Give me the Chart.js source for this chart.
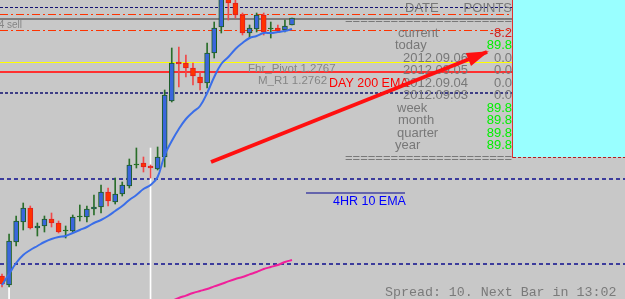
<!DOCTYPE html>
<html>
<head>
<meta charset="utf-8">
<script src="https://cdn.jsdelivr.net/npm/chart.js@4.4.0/dist/chart.umd.min.js"></script>
<style>
html, body { margin: 0; padding: 0; background: #c8c8c8; overflow: hidden; }
#chart { display: block; }
</style>
</head>
<body>
<canvas id="chart" width="625" height="299"></canvas>
<script>
// 4H candles, oldest first
var opens  = [1.2662, 1.26575, 1.2679, 1.2689, 1.2696, 1.2686, 1.2687, 1.26905, 1.26885, 1.26845,
              1.26845, 1.26915, 1.26915, 1.26955, 1.26965, 1.2704, 1.2699, 1.2703, 1.2707, 1.27175,
              1.27185, 1.2717, 1.27155, 1.27215, 1.27495, 1.2769, 1.27685, 1.2766, 1.27615, 1.27585,
              1.27735, 1.27865, 1.2803, 1.27985, 1.27925, 1.27835, 1.27855, 1.27925, 1.27855, 1.2786,
              1.2785, 1.27875];
var highs  = [1.2663, 1.2683, 1.2692, 1.26985, 1.2697, 1.26885, 1.2692, 1.26935, 1.26895, 1.2687,
              1.26925, 1.26975, 1.2697, 1.27025, 1.27075, 1.2706, 1.2711, 1.2709, 1.27205, 1.2726,
              1.27215, 1.27175, 1.27265, 1.2755, 1.2776, 1.27765, 1.27725, 1.27685, 1.2764, 1.27785,
              1.2789, 1.28075, 1.28075, 1.2801, 1.27935, 1.27875, 1.27935, 1.27935, 1.2789, 1.27875,
              1.279, 1.2791];
var lows   = [1.26565, 1.26565, 1.2677, 1.2685, 1.26855, 1.2682, 1.2684, 1.26865, 1.26835, 1.2681,
              1.2684, 1.26895, 1.2689, 1.26925, 1.26935, 1.2697, 1.2698, 1.2702, 1.2706, 1.2716,
              1.2714, 1.2711, 1.2715, 1.27165, 1.2749, 1.27565, 1.27615, 1.27575, 1.2755, 1.2756,
              1.2771, 1.27835, 1.279, 1.2791, 1.27825, 1.2781, 1.2784, 1.27825, 1.2781, 1.2784,
              1.2784, 1.27875];
var closes = [1.2658, 1.26795, 1.26895, 1.2696, 1.2686, 1.2687, 1.26905, 1.26885, 1.2684, 1.2685,
              1.26915, 1.2692, 1.26955, 1.26965, 1.2704, 1.26995, 1.2703, 1.27075, 1.27175, 1.2718,
              1.27165, 1.2716, 1.27215, 1.27525, 1.27685, 1.2768, 1.2766, 1.2762, 1.27585, 1.27735,
              1.2786, 1.28025, 1.27985, 1.27925, 1.27835, 1.2786, 1.27925, 1.2784, 1.2786, 1.27845,
              1.2787, 1.2791];

// 4HR 10 EMA, one value per candle
var ema10 = [1.26575, 1.2663, 1.26685, 1.26725, 1.2675, 1.2677, 1.2679, 1.26805, 1.26815, 1.2682,
             1.26835, 1.2685, 1.26865, 1.26885, 1.269, 1.2692, 1.26945, 1.2697, 1.27, 1.27025,
             1.27055, 1.27075, 1.27115, 1.27225, 1.27295, 1.27355, 1.27405, 1.2744, 1.2747, 1.27535,
             1.27615, 1.2768, 1.27715, 1.27755, 1.27785, 1.2781, 1.2782, 1.27835, 1.27835, 1.2784,
             1.27845, 1.27855];

// day 200 EMA, starts at candle 24
var ema200Start = 24;
var ema200 = [1.26495, 1.2651, 1.26522, 1.26535, 1.26545, 1.26555, 1.26568, 1.2658, 1.26593,
              1.26605, 1.26615, 1.26628, 1.2664, 1.26655, 1.26665, 1.26675, 1.2669, 1.267];

// horizontal levels drawn across the chart
var levels = [1.27965, 1.27928, 1.27905, 1.27845, 1.27685, 1.2764, 1.27535, 1.27105, 1.2668];

// period separators
var sepX = [1, 21];
var sepTop = [1.26575, 1.2726];

// hand drawn objects
var arrowX = [29.55, 68.57];
var arrowY = [1.2719, 1.2774];
var emaLineX = [42.98, 56.98];
var emaLineY = 1.27035;
var boxLeft = 72.28;
var boxBottom = 1.27215;

// stats panel
var panelLabels = ['current', 'today', '2012.09.06', '2012.09.05', '2012.09.04', '2012.09.03',
                   'week', 'month', 'quarter', 'year'];
var panelPoints = [-8.2, 89.8, 0.0, 0.0, 0.0, 0.0, 89.8, 89.8, 89.8, 89.8];

var levelStyles = [
    { color: '#101070', width: 1, dash: [3, 2] },
    { color: '#ff3300', width: 1, dash: [8, 3, 2, 3] },
    { color: '#7e7e7e', width: 2, dash: [] },
    { color: '#ff3300', width: 1, dash: [8, 3, 2, 3] },
    { color: '#ffff00', width: 1, dash: [] },
    { color: '#ff3030', width: 2, dash: [] },
    { color: '#101070', width: 1.5, dash: [3, 2] },
    { color: '#3c3c9c', width: 2, dash: [4, 3] },
    { color: '#3c3c9c', width: 2, dash: [4, 3] }
];
var panelLabelLeft = [398, 395, 403, 403, 403, 403, 397, 398, 397, 395];

var SANS = '"Liberation Sans", Arial, sans-serif';

function isDoji(i) {
    return closes[i] >= opens[i] && closes[i] - opens[i] < 0.00007;
}

function snap(y, w) {
    return (Math.round(w) % 2 === 1) ? Math.floor(y) + 0.5 : Math.round(y);
}

var overlay = {
    id: 'overlay',
    beforeDraw: function (chart) {
        var ctx = chart.ctx;
        ctx.save();
        ctx.fillStyle = '#c8c8c8';
        ctx.fillRect(0, 0, chart.width, chart.height);
        ctx.restore();
    },
    beforeDatasetsDraw: function (chart) {
        var ctx = chart.ctx;
        var xs = chart.scales.x, ys = chart.scales.y;
        ctx.save();

        // levels
        levels.forEach(function (p, i) {
            var st = levelStyles[i];
            var y = snap(ys.getPixelForValue(p), st.width);
            ctx.beginPath();
            ctx.setLineDash(st.dash);
            ctx.strokeStyle = st.color;
            ctx.lineWidth = st.width;
            ctx.moveTo(0, y);
            ctx.lineTo(chart.width, y);
            ctx.stroke();
        });
        ctx.setLineDash([]);

        // cyan box
        var bx = Math.round(xs.getPixelForValue(boxLeft));
        var by = Math.round(ys.getPixelForValue(boxBottom));
        ctx.fillStyle = '#99ffff';
        ctx.fillRect(bx, 0, chart.width - bx, by);
        ctx.strokeStyle = '#e03030';
        ctx.lineWidth = 1;
        ctx.beginPath();
        ctx.moveTo(bx - 0.5, 0);
        ctx.lineTo(bx - 0.5, by + 1);
        ctx.stroke();
        ctx.setLineDash([3, 2]);
        ctx.strokeStyle = '#b02020';
        ctx.beginPath();
        ctx.moveTo(bx, by + 0.5);
        ctx.lineTo(chart.width, by + 0.5);
        ctx.stroke();
        ctx.setLineDash([]);

        // panel
        ctx.textBaseline = 'alphabetic';
        ctx.font = '13px ' + SANS;
        ctx.fillStyle = '#787878';
        ctx.textAlign = 'left';
        ctx.fillText('DATE', 405, 11.5);
        ctx.textAlign = 'right';
        ctx.fillText('POINTS', 512, 11.5);
        ctx.textAlign = 'left';
        ctx.fillText('======================', 345, 24);
        ctx.fillText('======================', 345, 161.5);
        panelLabels.forEach(function (lab, i) {
            var base = 11.5 + 12.5 * (i + 2);
            ctx.textAlign = 'left';
            ctx.fillStyle = '#787878';
            ctx.fillText(lab, panelLabelLeft[i], base);
            var v = panelPoints[i];
            ctx.textAlign = 'right';
            ctx.fillStyle = v < 0 ? '#d02020' : (v > 0 ? '#00f000' : '#787878');
            ctx.fillText(v.toFixed(1), 512, base);
        });

        // object labels
        ctx.textAlign = 'left';
        ctx.fillStyle = '#858585';
        ctx.font = '11.5px ' + SANS;
        ctx.fillText('Fhr_Pivot 1.2767', 248, 72);
        ctx.fillText('M_R1 1.2762', 258, 84);
        ctx.font = '10px ' + SANS;
        ctx.textAlign = 'right';
        ctx.fillText('1.2754 sell', 22, 28);
        ctx.textAlign = 'left';
        ctx.font = '12.5px ' + SANS;
        ctx.fillStyle = '#ff0000';
        ctx.fillText('DAY 200 EMA', 329, 87);
        ctx.fillStyle = '#0000ff';
        ctx.fillText('4HR 10 EMA', 333, 205);
        ctx.font = '13.3px "Liberation Mono", "Courier New", monospace';
        ctx.fillStyle = '#7a7a7a';
        ctx.fillText('Spread: 10. Next Bar in 13:02', 385, 296);
        ctx.restore();
    },
    afterDatasetsDraw: function (chart) {
        // arrow head
        var ctx = chart.ctx;
        var xs = chart.scales.x, ys = chart.scales.y;
        var x0 = xs.getPixelForValue(arrowX[0]), y0 = ys.getPixelForValue(arrowY[0]);
        var x1 = xs.getPixelForValue(arrowX[1]), y1 = ys.getPixelForValue(arrowY[1]);
        var a = Math.atan2(y1 - y0, x1 - x0);
        var len = 20, half = 7;
        ctx.save();
        ctx.fillStyle = '#ff1010';
        ctx.beginPath();
        ctx.moveTo(x1 + 2 * Math.cos(a), y1 + 2 * Math.sin(a));
        ctx.lineTo(x1 - len * Math.cos(a) - half * Math.sin(a), y1 - len * Math.sin(a) + half * Math.cos(a));
        ctx.lineTo(x1 - len * Math.cos(a) + half * Math.sin(a), y1 - len * Math.sin(a) - half * Math.cos(a));
        ctx.closePath();
        ctx.fill();
        ctx.restore();
    }
};

function renderChart() {
    var wickData = [], bodyData = [], wickColors = [], bodyFill = [], bodyBorder = [];
    for (var i = 0; i < opens.length; i++) {
        var up = closes[i] >= opens[i];
        wickData.push({ x: i, y: [lows[i], highs[i]] });
        bodyData.push({ x: i, y: [opens[i], closes[i]] });
        if (isDoji(i)) {
            wickColors.push('#2a6e2a');
            bodyFill.push('#1e6e1e');
            bodyBorder.push('#1e6e1e');
        } else if (up) {
            wickColors.push('#2a6e2a');
            bodyFill.push('#3a66dc');
            bodyBorder.push('#1d5e1d');
        } else {
            wickColors.push('#f04848');
            bodyFill.push('#ff3300');
            bodyBorder.push('#e02020');
        }
    }

    var emaData = ema10.map(function (v, i) { return { x: i, y: v }; });
    var ema200Data = ema200.map(function (v, i) { return { x: ema200Start + i, y: v }; });
    var sepData = sepX.map(function (x, i) { return { x: x, y: [1.26, sepTop[i]] }; });
    var arrowData = arrowX.map(function (x, i) { return { x: x, y: arrowY[i] }; });
    var labelLine = emaLineX.map(function (x) { return { x: x, y: emaLineY }; });

    new Chart(document.getElementById('chart').getContext('2d'), {
        type: 'bar',
        data: {
            datasets: [{
                label: 'separators',
                data: sepData,
                backgroundColor: '#ffffff',
                barThickness: 1,
                grouped: false,
                borderWidth: 0,
                order: 7
            }, {
                label: 'wicks',
                data: wickData,
                backgroundColor: wickColors,
                barThickness: 1,
                grouped: false,
                borderWidth: 0,
                order: 6
            }, {
                label: 'bodies',
                data: bodyData,
                backgroundColor: bodyFill,
                borderColor: bodyBorder,
                borderWidth: 1,
                borderSkipped: false,
                barThickness: 5,
                grouped: false,
                order: 5
            }, {
                type: 'line',
                label: 'DAY 200 EMA',
                data: ema200Data,
                borderColor: '#f0209a',
                borderWidth: 2,
                pointRadius: 0,
                tension: 0.3,
                order: 4
            }, {
                type: 'line',
                label: '4HR 10 EMA',
                data: emaData,
                borderColor: '#3a6ee8',
                borderWidth: 2,
                pointRadius: 0,
                tension: 0.4,
                order: 3
            }, {
                type: 'line',
                label: 'ema label line',
                data: labelLine,
                borderColor: '#000090',
                borderWidth: 1,
                pointRadius: 0,
                order: 2
            }, {
                type: 'line',
                label: 'arrow',
                data: arrowData,
                borderColor: '#ff1010',
                borderWidth: 4,
                pointRadius: 0,
                order: 1
            }]
        },
        options: {
            responsive: false,
            animation: false,
            events: [],
            layout: { padding: 0 },
            plugins: { legend: { display: false }, tooltip: { enabled: false } },
            scales: {
                x: { type: 'linear', min: -0.2828, max: 88.079, offset: false, display: false },
                y: { type: 'linear', min: 1.26505, max: 1.28, display: false }
            }
        },
        plugins: [overlay]
    });
}

renderChart();
</script>
</body>
</html>
